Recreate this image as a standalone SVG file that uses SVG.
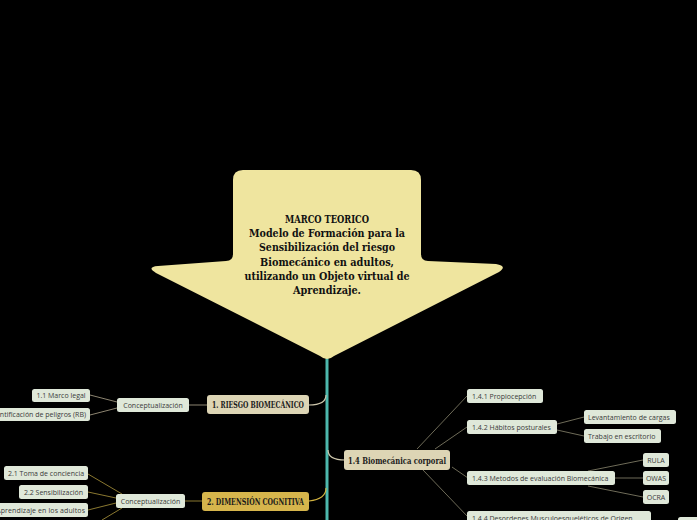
<svg xmlns="http://www.w3.org/2000/svg" width="697" height="520" viewBox="0 0 697 520">
<style>
.leaf{fill:#dfe8d9;}
.lt{font-family:"Open Sans","DejaVu Sans",sans-serif;font-size:7px;fill:#3a3a3a;}
.mt{font-family:"DejaVu Serif Condensed","Liberation Serif",serif;font-weight:bold;font-size:8.5px;fill:#1a1a1a;}
.title{font-family:"DejaVu Serif Condensed","Liberation Serif",serif;font-weight:bold;font-size:10.7px;fill:#111;text-anchor:middle;}
.c1{stroke:#8c8470;stroke-width:1;fill:none;}
.c4{stroke:#6e6b58;stroke-width:1;fill:none;}
.c2{stroke:#8a7830;stroke-width:1;fill:none;}
</style>
<rect width="697" height="520" fill="#000"/>
<g id="connectors">
<line x1="327" y1="358" x2="327" y2="520" stroke="#4db8ad" stroke-width="3"/>
<path d="M326 395 C326 403 318 405 309 405" stroke="#cfc8ad" stroke-width="1.2" fill="none"/>
<path d="M328 450 C328 458 336 460 345 460" stroke="#cfc8ad" stroke-width="1.2" fill="none"/>
<path d="M326 488 C326 497 318 500 309 501" stroke="#d4b440" stroke-width="1.2" fill="none"/>
<line class="c1" x1="207" y1="405" x2="189" y2="405"/>
<line class="c1" x1="117" y1="402" x2="90" y2="395"/>
<line class="c1" x1="117" y1="408" x2="90" y2="415"/>
<line class="c2" x1="202" y1="501" x2="185" y2="501"/>
<line class="c2" x1="122" y1="494" x2="88" y2="474"/>
<line class="c2" x1="116" y1="498" x2="88" y2="492"/>
<line class="c2" x1="116" y1="503" x2="88" y2="510"/>
<line class="c2" x1="122" y1="508" x2="102" y2="520"/>
<line class="c4" x1="417" y1="449" x2="467" y2="396"/>
<line class="c4" x1="435" y1="449" x2="467" y2="427"/>
<line class="c4" x1="452" y1="467" x2="468" y2="478"/>
<line class="c4" x1="423" y1="470" x2="468" y2="517"/>
<line class="c4" x1="557" y1="424" x2="584" y2="417"/>
<line class="c4" x1="557" y1="430" x2="584" y2="436"/>
<line class="c4" x1="588" y1="471" x2="643" y2="460"/>
<line class="c4" x1="615" y1="478" x2="643" y2="478"/>
<line class="c4" x1="588" y1="486" x2="643" y2="497"/>
</g>
<g id="root">
<path d="M243 170 L411 170 Q421 170 421 180 L421 254 Q421 261 428 261 L496 264 Q508 266 499 272 L334 356 Q327 362 320 356 L156 273 Q146 267 158 266 L226 261 Q233 261 233 254 L233 180 Q233 170 243 170 Z" fill="#efe59f"/>
<text class="title" x="327" y="223" textLength="84" lengthAdjust="spacingAndGlyphs">MARCO TEORICO</text>
<text class="title" x="327" y="237" textLength="156" lengthAdjust="spacingAndGlyphs">Modelo de Formación para la</text>
<text class="title" x="327" y="251" textLength="136" lengthAdjust="spacingAndGlyphs">Sensibilización del riesgo</text>
<text class="title" x="327" y="266" textLength="134" lengthAdjust="spacingAndGlyphs">Biomecánico en adultos,</text>
<text class="title" x="327" y="280" textLength="165" lengthAdjust="spacingAndGlyphs">utilizando un Objeto virtual de</text>
<text class="title" x="327" y="294" textLength="68" lengthAdjust="spacingAndGlyphs">Aprendizaje.</text>
</g>
<g id="n1">
<rect x="207" y="395" width="102" height="19" rx="3" fill="#ddd5b5"/>
<text class="mt" x="258" y="408" text-anchor="middle" textLength="92" lengthAdjust="spacingAndGlyphs">1. RIESGO BIOMECÁNICO</text>
</g>
<g id="n1c">
<rect class="leaf" x="117" y="398" width="72" height="14" rx="2.5"/>
<text class="lt" x="153" y="408" text-anchor="middle">Conceptualización</text>
</g>
<g id="n11">
<rect class="leaf" x="32" y="389" width="58" height="13" rx="2.5"/>
<text class="lt" x="61" y="398" text-anchor="middle">1.1 Marco legal</text>
</g>
<g id="n12">
<rect class="leaf" x="-20" y="408" width="110" height="13" rx="2.5"/>
<text class="lt" x="86" y="417" text-anchor="end">1.2 Identificación de peligros (RB)</text>
</g>
<g id="n2">
<rect x="202" y="492" width="107" height="19" rx="3" fill="#d6b54c"/>
<text class="mt" x="255.5" y="505" text-anchor="middle" textLength="97" lengthAdjust="spacingAndGlyphs">2. DIMENSIÓN COGNITIVA</text>
</g>
<g id="n2c">
<rect class="leaf" x="116" y="494" width="69" height="14" rx="2.5"/>
<text class="lt" x="150.5" y="504" text-anchor="middle">Conceptualización</text>
</g>
<g id="n21">
<rect class="leaf" x="4" y="466" width="84" height="14" rx="2.5"/>
<text class="lt" x="46" y="476" text-anchor="middle">2.1 Toma de conciencia</text>
</g>
<g id="n22">
<rect class="leaf" x="19" y="485" width="69" height="14" rx="2.5"/>
<text class="lt" x="53.5" y="495" text-anchor="middle">2.2 Sensibilización</text>
</g>
<g id="n23">
<rect class="leaf" x="-30" y="503" width="118" height="14" rx="2.5"/>
<text class="lt" x="85" y="513" text-anchor="end" textLength="101" lengthAdjust="spacing">2.3 Aprendizaje en los adultos</text>
</g>
<g id="n14">
<rect x="344" y="450" width="106" height="20" rx="3" fill="#ddd5b5"/>
<text class="mt" x="397" y="463.5" text-anchor="middle" textLength="98" lengthAdjust="spacingAndGlyphs">1.4 Biomecánica corporal</text>
</g>
<g id="n141">
<rect class="leaf" x="467" y="389" width="76" height="14" rx="2.5"/>
<text class="lt" x="472" y="399">1.4.1 Propiocepción</text>
</g>
<g id="n142">
<rect class="leaf" x="467" y="420" width="90" height="14" rx="2.5"/>
<text class="lt" x="472" y="430">1.4.2 Hábitos posturales</text>
</g>
<g id="n1421">
<rect class="leaf" x="584" y="410" width="92" height="14" rx="2.5"/>
<text class="lt" x="588" y="420">Levantamiento de cargas</text>
</g>
<g id="n1422">
<rect class="leaf" x="584" y="429" width="77" height="14" rx="2.5"/>
<text class="lt" x="588" y="439">Trabajo en escritorio</text>
</g>
<g id="n143">
<rect class="leaf" x="467" y="471" width="148" height="14" rx="2.5"/>
<text class="lt" x="472" y="481">1.4.3 Metodos de evaluación Biomecánica</text>
</g>
<g id="rula">
<rect class="leaf" x="643" y="453" width="26" height="14" rx="2.5"/>
<text class="lt" x="656" y="463" text-anchor="middle">RULA</text>
</g>
<g id="owas">
<rect class="leaf" x="643" y="471" width="26" height="14" rx="2.5"/>
<text class="lt" x="656" y="481" text-anchor="middle">OWAS</text>
</g>
<g id="ocra">
<rect class="leaf" x="643" y="490" width="26" height="14" rx="2.5"/>
<text class="lt" x="656" y="500" text-anchor="middle">OCRA</text>
</g>
<g id="n144">
<rect class="leaf" x="467" y="511" width="184" height="14" rx="2.5"/>
<text class="lt" x="472" y="521">1.4.4 Desordenes Musculoesqueléticos de Origen</text>
</g>
<g id="n1441">
<rect class="leaf" x="678" y="517" width="30" height="14" rx="2.5"/>
</g>
</svg>
